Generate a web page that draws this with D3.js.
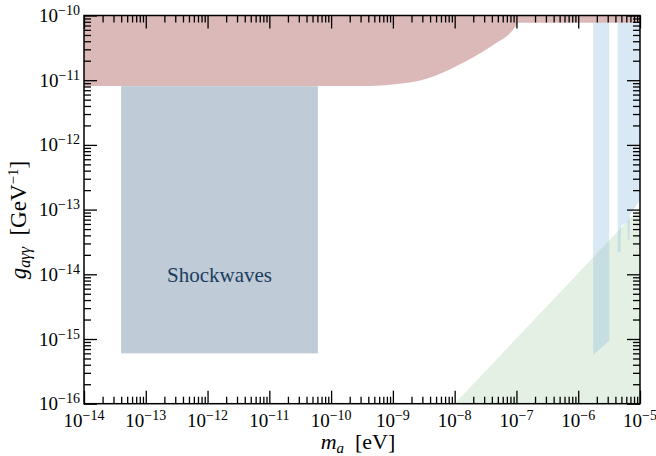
<!DOCTYPE html>
<html>
    <head>
        <meta charset="utf-8" />
        <script src="https://d3js.org/d3.v7.min.js"></script>
        <style>
            body { margin: 0; background: #fff; }
            svg { display: block; }
            text { font-family: 'Liberation Serif', 'DejaVu Serif', serif; }
        </style>
    </head>
    <body>
        <svg id="chart" width="656" height="456"></svg>
        <script>
            // tick values
            const xTicks = [1e-14, 1e-13, 1e-12, 1e-11, 1e-10, 1e-9, 1e-8, 1e-7, 1e-6, 1e-5]
            const yTicks = [1e-16, 1e-15, 1e-14, 1e-13, 1e-12, 1e-11, 1e-10]

            // upper (red) exclusion boundary
            const redMass = [1e-14, 1e-10, 3e-10, 1e-9, 3.5e-9, 1.2e-8, 4.2e-8, 8.8e-8, 1e-7]
            const redG = [8.1e-12, 8.1e-12, 8.1e-12, 8.6e-12, 1.05e-11, 1.75e-11, 3.5e-11, 6e-11, 7.1e-11]
            const stripMass = [1.05e-7, 1e-5]
            const stripG = 7.7e-11

            // shockwaves box
            const shockMass = [4e-14, 6.1e-11]
            const shockG = [6e-16, 8.1e-12]

            // blue band 1 (slanted bottom)
            const band1Mass = [1.75e-6, 3.18e-6]
            const band1Bottom = [5.7e-16, 9.4e-16]
            const bandTop = 7.7e-11

            // blue band 2 bottom edge
            const band2Mass = [4.36e-6, 4.83e-6, 4.92e-6, 6.27e-6, 6.38e-6, 6.75e-6, 6.88e-6, 1e-5]
            const band2Bottom = [2.21e-14, 2.21e-14, 5.58e-14, 6.45e-14, 3.39e-14, 3.39e-14, 8.26e-14, 1.41e-13]

            // green triangle
            const greenMass = [1e-8, 1e-5]
            const greenG = [1e-16, 1.06e-13]

            const svg = d3.select('#chart')
            const mLeft = 84, mRight = 640, mTop = 15.5, mBottom = 403.7

            const x = d3.scaleLog().domain([1e-14, 1e-5]).range([mLeft, mRight])
            const y = d3.scaleLog().domain([1e-16, 1e-10]).range([mBottom, mTop])

            const poly = (pts) => 'M' + pts.map((p) => x(p[0]) + ',' + y(p[1])).join('L') + 'Z'

            // red region: smooth lower edge, then straight back along the top
            const redLine = d3.line().x((d) => x(d[0])).y((d) => y(d[1])).curve(d3.curveMonotoneX)
            const redEdge = redMass.map((m, i) => [m, redG[i]])
            const redPath = redLine(redEdge) +
                'L' + x(stripMass[0]) + ',' + y(stripG) +
                'L' + x(stripMass[1]) + ',' + y(stripG) +
                'L' + x(1e-5) + ',' + y(1e-10) +
                'L' + x(1e-14) + ',' + y(1e-10) + 'Z'
            svg.append('path').attr('d', redPath).style('fill', '#dcb9b9')

            // shockwaves
            svg.append('rect')
                .attr('x', x(shockMass[0]))
                .attr('y', y(shockG[1]))
                .attr('width', x(shockMass[1]) - x(shockMass[0]))
                .attr('height', y(shockG[0]) - y(shockG[1]))
                .style('fill', '#bfcbd6')

            svg.append('text')
                .attr('x', (x(shockMass[0]) + x(shockMass[1])) / 2)
                .attr('y', 282)
                .attr('text-anchor', 'middle')
                .style('font-size', '21px')
                .style('fill', '#1b3d60')
                .text('Shockwaves')

            // green
            const greenPts = [[greenMass[0], greenG[0]], [greenMass[1], greenG[1]], [greenMass[1], 1e-16]]
            svg.append('path').attr('d', poly(greenPts)).style('fill', '#a8d0a8').style('opacity', 0.32)

            // blue bands
            const b1 = [[band1Mass[0], bandTop], [band1Mass[1], bandTop], [band1Mass[1], band1Bottom[1]], [band1Mass[0], band1Bottom[0]]]
            svg.append('path').attr('d', poly(b1)).style('fill', '#8fbde0').style('opacity', 0.35)

            const b2 = [[band2Mass[0], bandTop], [1e-5, bandTop]]
                .concat(band2Mass.map((m, i) => [m, band2Bottom[i]]).reverse())
            svg.append('path').attr('d', poly(b2)).style('fill', '#8fbde0').style('opacity', 0.35)

            // ticks
            const minor = (lo, hi) => {
                const out = []
                for (let e = lo; e < hi; e++) for (let k = 2; k <= 9; k++) out.push(k * Math.pow(10, e))
                return out
            }
            const xMinor = minor(-14, -5)
            const yMinor = minor(-16, -10)

            const addAxis = (axisFn, scale, major, minors, tr) => {
                const g1 = svg.append('g').attr('transform', tr)
                    .call(axisFn(scale).tickValues(major).tickSize(-13).tickFormat(''))
                const g2 = svg.append('g').attr('transform', tr)
                    .call(axisFn(scale).tickValues(minors).tickSize(-7).tickFormat(''))
                ;[g1, g2].forEach((g) => {
                    g.select('.domain').remove()
                    g.selectAll('line').style('stroke', '#000').style('stroke-width', 1.3)
                })
            }
            addAxis(d3.axisBottom, x, xTicks, xMinor, `translate(0,${mBottom})`)
            addAxis(d3.axisTop, x, xTicks, xMinor, `translate(0,${mTop})`)
            addAxis(d3.axisLeft, y, yTicks, yMinor, `translate(${mLeft},0)`)
            addAxis(d3.axisRight, y, yTicks, yMinor, `translate(${mRight},0)`)

            svg.append('rect')
                .attr('x', mLeft).attr('y', mTop)
                .attr('width', mRight - mLeft).attr('height', mBottom - mTop)
                .style('fill', 'none').style('stroke', '#000').style('stroke-width', 1.5)

            // tick labels
            const expOf = (v) => Math.round(Math.log10(v))
            xTicks.forEach((v) => {
                const t = svg.append('text')
                    .attr('x', x(v)).attr('y', 427)
                    .attr('text-anchor', 'middle')
                    .style('font-size', '19px')
                t.append('tspan').text('10')
                t.append('tspan').attr('dy', -7).style('font-size', '14px').text('\u2212' + -expOf(v))
            })
            yTicks.forEach((v) => {
                const t = svg.append('text')
                    .attr('x', 80).attr('y', y(v) + 6.5)
                    .attr('text-anchor', 'end')
                    .style('font-size', '19px')
                t.append('tspan').text('10')
                t.append('tspan').attr('dy', -7).style('font-size', '14px').text('\u2212' + -expOf(v))
            })

            // axis titles
            const xt = svg.append('text')
                .attr('x', 358).attr('y', 449)
                .attr('text-anchor', 'middle')
                .style('font-size', '22px')
            xt.append('tspan').style('font-style', 'italic').text('m')
            xt.append('tspan').attr('dy', 4).style('font-style', 'italic').style('font-size', '15px').text('a')
            xt.append('tspan').attr('dy', -4).text('\u2002[eV]')

            const yt = svg.append('text')
                .attr('transform', 'translate(26,220) rotate(-90)')
                .attr('text-anchor', 'middle')
                .style('font-size', '23px')
            yt.append('tspan').style('font-style', 'italic').text('g')
            yt.append('tspan').attr('dy', 4).style('font-style', 'italic').style('font-size', '16px').text('a\u03b3\u03b3')
            yt.append('tspan').attr('dy', -4).text('\u2002[GeV')
            yt.append('tspan').attr('dy', -8).style('font-size', '15px').text('\u22121')
            yt.append('tspan').attr('dy', 8).text(']')
        </script>
    </body>
</html>
